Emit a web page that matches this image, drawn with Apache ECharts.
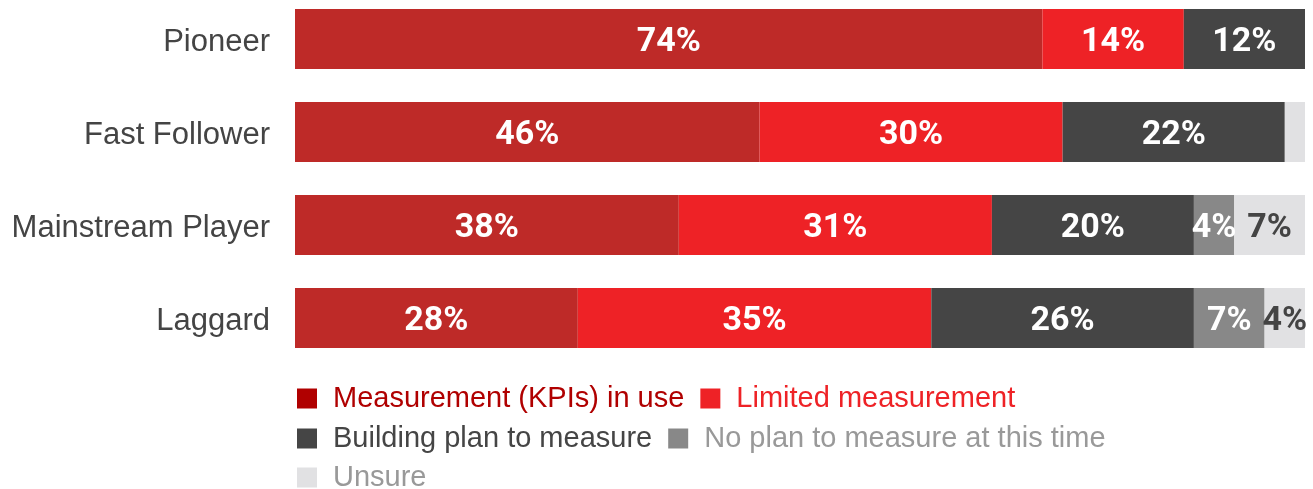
<!DOCTYPE html>
<html>
<head>
<meta charset="utf-8">
<script src="https://cdn.jsdelivr.net/npm/echarts@6/dist/echarts.min.js"></script>
<style>
  html, body { margin: 0; padding: 0; background: #fff; }
  #chart { width: 1313px; height: 489px; }
</style>
</head>
<body>
<div id="chart"></div>
<script>
const categories = ["Pioneer", "Fast Follower", "Mainstream Player", "Laggard"];
const seriesNames = [
  "Measurement (KPIs) in use",
  "Limited measurement",
  "Building plan to measure",
  "No plan to measure at this time",
  "Unsure"
];
const inUse = [74, 46, 38, 28];
const limited = [14, 30, 31, 35];
const building = [12, 22, 20, 26];
const noPlan = [0, 0, 4, 7];
const unsure = [0, 2, 7, 4];

const barColors = ["#be2a28", "#ee2226", "#454545", "#888888", "#e1e1e3"];
const iconColors = ["#b00000", "#ee2226", "#454545", "#888888", "#e1e1e3"];
const legendText = ["#b00000", "#ee2226", "#454545", "#999999", "#999999"];
const labelColors = ["#fff", "#fff", "#fff", "#fff", "#444"];

const values = [inUse, limited, building, noPlan, unsure];

const chart = echarts.init(document.getElementById("chart"));

// one legend per row, like the original layout
function legendRow(idx, top) {
  return {
    left: 292,
    top: top,
    orient: "horizontal",
    itemWidth: 20,
    itemHeight: 20,
    itemGap: 16,
    icon: "rect",
    selectedMode: false,
    textStyle: { fontSize: 29, fontFamily: "Liberation Sans", padding: [0, 0, 0, 11] },
    data: idx.map(i => ({
      name: seriesNames[i],
      itemStyle: { color: iconColors[i] },
      textStyle: { color: legendText[i] }
    }))
  };
}

chart.setOption({
  animation: false,
  grid: { left: 295, right: 8, top: 39, height: 279 },
  xAxis: { type: "value", min: 0, max: 100, show: false },
  yAxis: {
    type: "category",
    data: categories,
    inverse: true,
    boundaryGap: false,
    axisLine: { show: false },
    axisTick: { show: false },
    axisLabel: {
      margin: 25,
      formatter: v => "{c|" + v + "}",
      rich: {
        c: {
          fontSize: 31,
          color: "#444",
          fontFamily: "Liberation Sans",
          padding: [7, 0, 0, 0]
        }
      }
    }
  },
  legend: [
    legendRow([0, 1], 379),
    legendRow([2, 3], 419),
    legendRow([4], 458)
  ],
  series: values.map((vals, i) => ({
    name: seriesNames[i],
    type: "bar",
    stack: "total",
    barWidth: 60,
    itemStyle: { color: barColors[i] },
    label: {
      show: true,
      position: "inside",
      offset: [0, 3],
      color: labelColors[i],
      fontSize: 34,
      fontWeight: "bold",
      fontFamily: "Roboto",
      formatter: p => (p.value >= 3 ? p.value + "%" : "")
    },
    data: vals
  }))
});
</script>
</body>
</html>
